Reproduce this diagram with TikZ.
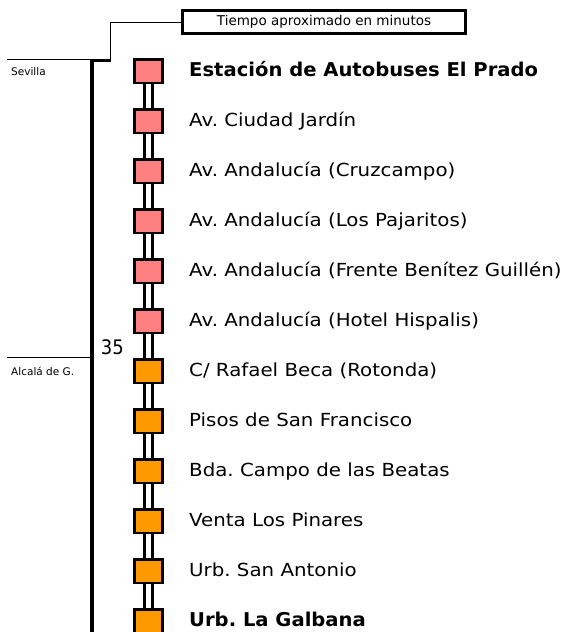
\documentclass[tikz,border=0pt]{standalone}
\usepackage{fontspec}
\setmainfont{DejaVu Sans}
\newfontfamily\estrecha{DejaVu Sans Condensed}
\usetikzlibrary{positioning,backgrounds}
\definecolor{rosa}{HTML}{FF8080}
\definecolor{naranja}{HTML}{FF9900}
\newcommand{\ancho}[1]{\scalebox{1.1}[1]{#1}}
\newcommand{\negra}[1]{\scalebox{1.03}[1]{\fontsize{19}{22}\selectfont\bfseries #1}}
\frenchspacing

\begin{document}
\begin{tikzpicture}[x=1pt,y=-1pt,font=\fontsize{18}{21}\selectfont]
 \useasboundingbox (0,0) rectangle (569,632);
 \clip (0,0) rectangle (569,632);
 \tikzset{
  parada/.style={draw,line width=2.7pt,minimum width=28.3pt,minimum height=23.3pt,inner sep=0pt},
  via/.style={line width=3pt,double=white,double distance=5.7pt},
  rotulo/.style={anchor=base west,inner sep=0pt},
  pueblo/.style={anchor=base west,inner sep=0pt,font=\fontsize{10.5}{12}\selectfont},
  fino/.style={line width=0.8pt}
 }
 % paradas
 \foreach \i/\col/\txt in {
   1/rosa/{\negra{Estación de Autobuses El Prado}},
   2/rosa/{\ancho{Av. Ciudad Jardín}},
   3/rosa/{\ancho{Av. Andalucía (Cruzcampo)}},
   4/rosa/{\ancho{Av. Andalucía (Los Pajaritos)}},
   5/rosa/{\ancho{Av. Andalucía (Frente Benítez Guillén)}},
   6/rosa/{\ancho{Av. Andalucía (Hotel Hispalis)}},
   7/naranja/{\ancho{C/ Rafael Beca (Rotonda)}},
   8/naranja/{\ancho{Pisos de San Francisco}},
   9/naranja/{\ancho{Bda. Campo de las Beatas}},
   10/naranja/{\ancho{Venta Los Pinares}},
   11/naranja/{\ancho{Urb. San Antonio}},
   12/naranja/{\negra{Urb. La Galbana}}}{
   \node[parada,fill=\col] (p\i) at (148.5,71.3+50*\i-50) {};
   \node[rotulo] (t\i) at (189,76+50*\i-50) {\txt};
 }
 % vias entre paradas
 \begin{scope}[on background layer]
  \foreach \i in {1,...,11}{
    \pgfmathtruncatemacro{\j}{\i+1}
    \draw[via] (p\i.center) -- (p\j.center);
  }
 \end{scope}
 % tiempo
 \node[draw,line width=2.6pt,minimum width=283.3pt,minimum height=22.7pt,inner sep=0pt,
   font=\fontsize{13.5}{16}\selectfont] (tiempo) at (324,22) {Tiempo aproximado en minutos};
 \coordinate (esq) at (110.7,60.7);
 \coordinate (fin) at (92,640);
 \draw[fino] (tiempo.west) -| (esq);
 \draw[line width=3.2pt] (esq) -| (fin);
 \node[anchor=base east,inner sep=0pt,font=\estrecha\fontsize{20}{24}\selectfont] (min) at (124,354) {35};
 % pueblos
 \node[pueblo] (sev) at (11,75.7) {Sevilla};
 \node[pueblo] (alc) at (11,375.7) {Alcalá de G.};
 \coordinate (sevi) at (7,59.3);
 \coordinate (alci) at (7,357.7);
 \draw[fino] (sevi) -- (sevi -| fin);
 \draw[fino] (alci) -- (alci -| fin);
\end{tikzpicture}
\end{document}
